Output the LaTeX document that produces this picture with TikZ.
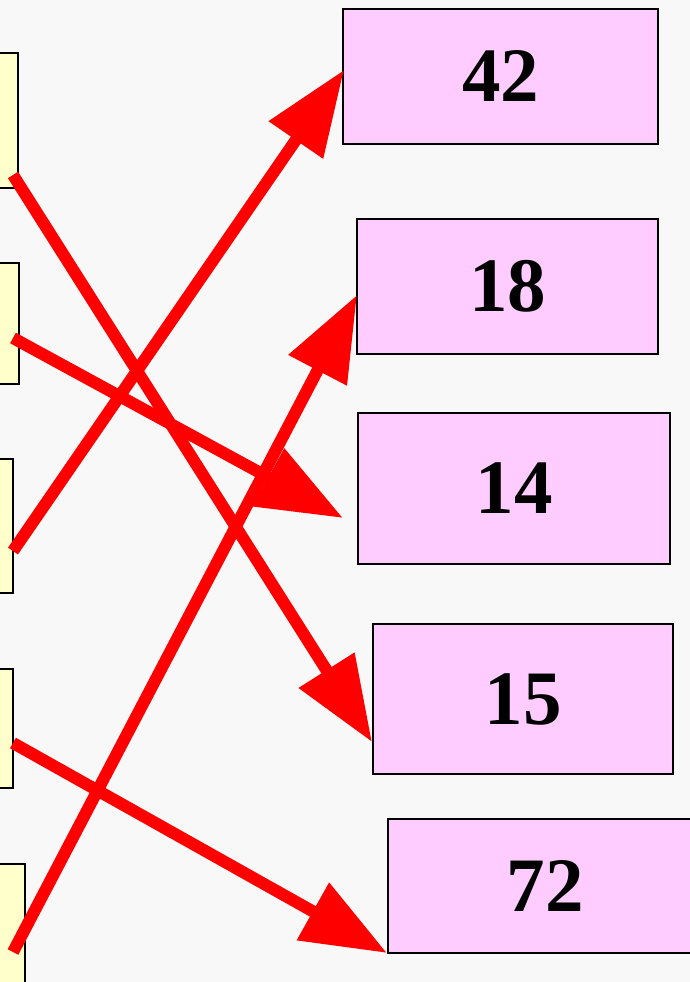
\documentclass[tikz,border=0pt]{standalone}
\usepackage{fontspec}
\setmainfont{Liberation Serif}
\usetikzlibrary{arrows.meta}
\definecolor{bgc}{RGB}{248,248,248}
\definecolor{yel}{RGB}{255,255,204}
\definecolor{pnk}{RGB}{255,204,255}
\definecolor{arr}{RGB}{255,0,0}
\tikzset{
  ybox/.style={draw=black, line width=2.2pt, fill=yel, rectangle, inner sep=0pt},
  pbox/.style={draw=black, line width=2.2pt, fill=pnk, rectangle, inner sep=0pt,
    font=\fontsize{77}{80}\selectfont\bfseries},
  redarrow/.style={draw=arr, line width=12pt,
    -{Triangle[length=85pt,width=63pt]}}
}
\begin{document}
\begin{tikzpicture}[x=1pt,y=-1pt]
\useasboundingbox (0,0) rectangle (690,982);
\clip (0,0) rectangle (690,982);
\fill[bgc] (0,0) rectangle (690,982);
% left (yellow) boxes
\node[ybox, minimum width=118pt, minimum height=135pt] (y1) at (-41,120.5) {};
\node[ybox, minimum width=119pt, minimum height=121pt] (y2) at (-40.5,323.5) {};
\node[ybox, minimum width=113pt, minimum height=134pt] (y3) at (-43.5,526) {};
\node[ybox, minimum width=113pt, minimum height=119pt] (y4) at (-43.5,728.5) {};
\node[ybox, minimum width=125pt, minimum height=236pt] (y5) at (-37.5,982) {};
% right (pink) boxes
\node[pbox, minimum width=315pt, minimum height=135pt] (b42) at (500.5,76.5) {42};
\node[pbox, minimum width=301pt, minimum height=135pt] (b18) at (507.5,286.5) {18};
\node[pbox, minimum width=312pt, minimum height=151pt] (b14) at (514,488.5) {14};
\node[pbox, minimum width=300pt, minimum height=150pt] (b15) at (523,699) {15};
\node[pbox, minimum width=314pt, minimum height=134pt] (b72) at (545,886) {72};
% arrow ends
\coordinate (s1) at (13,175);
\coordinate (s2) at (13,338);
\coordinate (s3) at (13,551);
\coordinate (s4) at (13,743);
\coordinate (s5) at (13,952);
\coordinate (t15) at (372,742);
\coordinate (t14) at (343,518);
\coordinate (t42) at (344,70);
\coordinate (t72) at (387,953);
\coordinate (t18) at (357,295);
% arrows
\draw[redarrow] (s1) -- (t15);
\draw[redarrow] (s2) -- (t14);
\draw[redarrow] (s3) -- (t42);
\draw[redarrow] (s4) -- (t72);
\draw[redarrow] (s5) -- (t18);
\end{tikzpicture}
\end{document}
